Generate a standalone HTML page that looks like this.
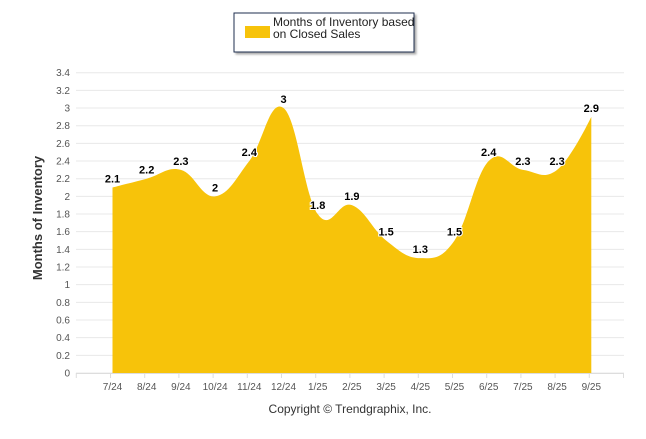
<!DOCTYPE html>
<html><head><meta charset="utf-8"><style>
body{margin:0;background:#fff;width:646px;height:434px;overflow:hidden;font-family:"Liberation Sans",sans-serif}
</style></head><body>
<svg id="chart" width="646" height="434">
<rect x="234" y="13" width="180" height="39" fill="#fff" stroke="#1f2f4f" stroke-width="1" style="filter:drop-shadow(2px 2px 1px #aaa)"/>
<rect x="245" y="26" width="25" height="12" fill="#f7c30a"/>
<text x="273" y="26" font-size="12" fill="#222"><tspan x="273">Months of Inventory based</tspan><tspan x="273" dy="12">on Closed Sales</tspan></text>
<g id="grid"></g><g id="area"></g><g id="labels"></g>
<text transform="translate(42,218) rotate(-90)" text-anchor="middle" font-size="13" font-weight="bold" fill="#333">Months of Inventory</text>
<text x="350" y="413" text-anchor="middle" font-size="12" fill="#333">Copyright © Trendgraphix, Inc.</text>
</svg>
<script>
const categories=["7/24","8/24","9/24","10/24","11/24","12/24","1/25","2/25","3/25","4/25","5/25","6/25","7/25","8/25","9/25"];
const values=[2.1,2.2,2.3,2,2.4,3,1.8,1.9,1.5,1.3,1.5,2.4,2.3,2.3,2.9];
const yTicks=[0,0.2,0.4,0.6,0.8,1,1.2,1.4,1.6,1.8,2,2.2,2.4,2.6,2.8,3,3.2,3.4];
const NS="http://www.w3.org/2000/svg";
const L=76,R=624,Y0=373,Ytop=72.7,step=34.2,x0=112.5;
const xs=i=>x0+step*i, ys=v=>Y0-(Y0-Ytop)*v/3.4;
function mk(t,a,p){const e=document.createElementNS(NS,t);for(const k in a)e.setAttribute(k,a[k]);p.appendChild(e);return e;}
const grid=document.getElementById('grid');
yTicks.forEach(v=>{
 const l=mk('line',{x1:L,x2:R,y1:ys(v),y2:ys(v),stroke:'#e8e8e8'},grid);
 
 
 const t=mk('text',{x:L-6,y:ys(v)+3.5,'text-anchor':'end','font-size':'10',fill:'#555'},grid);
 t.textContent=String(v);
 
 
});
mk('line',{x1:L,x2:R,y1:Y0+0.5,y2:Y0+0.5,stroke:'#ddd'},grid);
for(let i=-1;i<=categories.length;i++){mk('line',{x1:xs(i)-2,x2:xs(i)-2,y1:Y0,y2:Y0+5,stroke:'#ddd'},grid);}
categories.forEach((c,i)=>{
 const t=mk('text',{x:xs(i),y:Y0+17,'text-anchor':'middle','font-size':'10',fill:'#555'},grid);
 t.textContent=c;
 
 
});
const P=values.map((v,i)=>[xs(i),ys(v)]);
let d=`M${P[0][0]},${Y0}L${P[0][0]},${P[0][1]}`;
const sm=1.5;
function cp(i){
 const p=P[i],a=P[i-1],b=P[i+1];
 if(!a||!b)return [p,p];
 let lx=(sm*p[0]+a[0])/(sm+1),ly=(sm*p[1]+a[1])/(sm+1),rx=(sm*p[0]+b[0])/(sm+1),ry=(sm*p[1]+b[1])/(sm+1);
 const corr=((ry-ly)*(rx-p[0]))/(rx-lx)+p[1]-ry;ly+=corr;ry+=corr;
 return [[lx,ly],[rx,ry]];
}
const C=P.map((_,i)=>cp(i));
for(let i=1;i<P.length;i++){const c1=C[i-1][1],c2=C[i][0];d+=`C${c1[0]},${c1[1]} ${c2[0]},${c2[1]} ${P[i][0]},${P[i][1]}`;}
d+=`L${P[P.length-1][0]},${Y0}Z`;
const area=mk('path',{d,fill:'#f7c30a'},document.getElementById('area'));


const lab=document.getElementById('labels');
values.forEach((v,i)=>{
 const t=mk('text',{x:xs(i),y:ys(v)-5,'text-anchor':'middle','font-size':'11','font-weight':'bold',fill:'#000',stroke:'#fff','stroke-width':'2','paint-order':'stroke'},lab);
 t.textContent=String(v);
 
 
});
</script>
</body></html>
